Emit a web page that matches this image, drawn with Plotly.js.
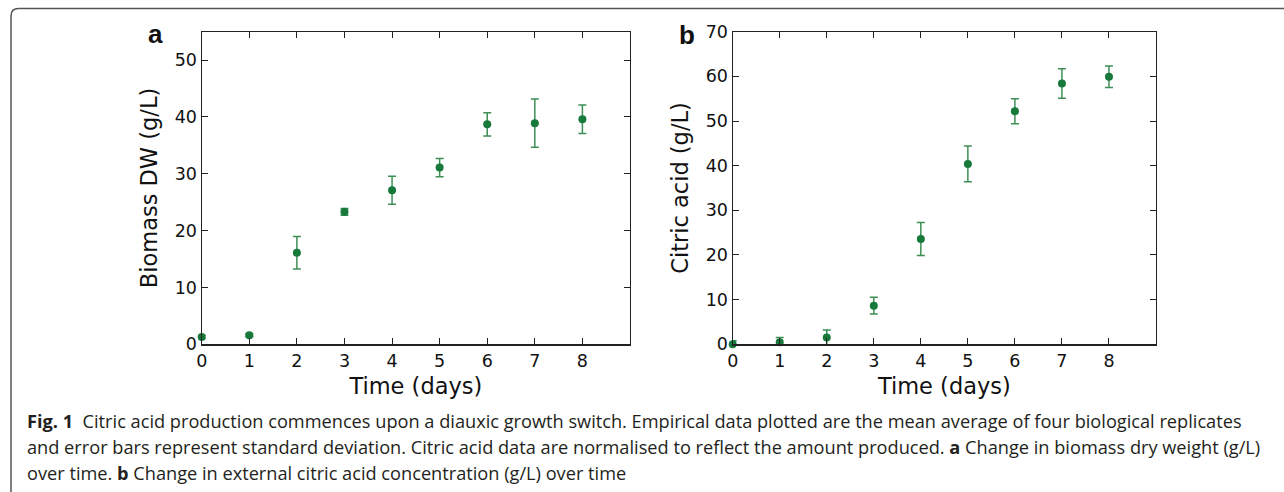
<!DOCTYPE html>
<html>
<head>
<meta charset="utf-8">
<script src="https://cdn.plot.ly/plotly-3.0.1.min.js"></script>
<style>
  html, body { margin: 0; padding: 0; background: #ffffff; }
  #chart { width: 1284px; height: 492px; }
</style>
</head>
<body>
<div id="chart"></div>
<script>
// ---- data ----
const days = [0, 1, 2, 3, 4, 5, 6, 7, 8];
const biomass = [1.3, 1.6, 16.1, 23.3, 27.1, 31.1, 38.7, 38.9, 39.6];
const biomassSD = [0.3, 0.25, 2.85, 0.6, 2.45, 1.6, 2.05, 4.25, 2.5];
const citric = [0.0, 0.45, 1.5, 8.66, 23.6, 40.4, 52.2, 58.4, 59.9];
const citricSD = [0.8, 1.1, 1.7, 1.85, 3.7, 4.0, 2.8, 3.3, 2.4];
const xTicks = [0, 1, 2, 3, 4, 5, 6, 7, 8];
const yTicksA = [0, 10, 20, 30, 40, 50];
const yTicksB = [0, 10, 20, 30, 40, 50, 60, 70];
const captionLines = [
  "<b>Fig. 1</b>  Citric acid production commences upon a diauxic growth switch. Empirical data plotted are the mean average of four biological replicates",
  "and error bars represent standard deviation. Citric acid data are normalised to reflect the amount produced. <b>a</b> Change in biomass dry weight (g/L)",
  "over time. <b>b</b> Change in external citric acid concentration (g/L) over time"
];

// ---- layout helpers ----
const W = 1284, H = 492;
const px = x => x / W;
const py = y => (H - y) / H;

const markerColor = '#17793a';
const errColor = '#3e8f56';
const axisColor = '#222222';
const tickFont = {family: 'DejaVu Sans', size: 17.5, color: '#111111'};
const titleFont = {family: 'DejaVu Sans', size: 22.5, color: '#111111'};

function trace(y, sd, xa, ya) {
  return {
    x: days, y: y, xaxis: xa, yaxis: ya, type: 'scatter', mode: 'markers',
    cliponaxis: false,
    marker: {color: markerColor, size: 8},
    error_y: {type: 'data', array: sd, visible: true, color: errColor, thickness: 1.5, width: 4},
    showlegend: false, hoverinfo: 'x+y'
  };
}

function xAxis(domain, anchor) {
  return {
    domain: domain, anchor: anchor, range: [0, 9],
    tickvals: xTicks, ticktext: xTicks.map(String),
    ticks: 'inside', ticklen: 6, tickwidth: 1, tickcolor: axisColor,
    showline: true, linecolor: axisColor, linewidth: 1.2, mirror: 'allticks',
    showgrid: false, zeroline: false, tickfont: tickFont,
    title: {text: 'Time (days)', font: titleFont, standoff: 8}
  };
}
function yAxis(domain, anchor, range, ticks, title) {
  return {
    domain: domain, anchor: anchor, range: range,
    tickvals: ticks, ticktext: ticks.map(String),
    ticks: 'inside', ticklen: 6, tickwidth: 1, tickcolor: axisColor,
    showline: true, linecolor: axisColor, linewidth: 1.2, mirror: 'allticks',
    showgrid: false, zeroline: false, tickfont: tickFont,
    title: {text: title, font: titleFont, standoff: 10}
  };
}

const yDom = [py(344.3), py(31.7)];

const annotations = [
  {text: '<b>a</b>', x: px(155), y: py(34), xref: 'paper', yref: 'paper', showarrow: false,
   xanchor: 'center', yanchor: 'middle', font: {family: 'Liberation Sans', size: 26, color: '#111'}},
  {text: '<b>b</b>', x: px(687), y: py(35), xref: 'paper', yref: 'paper', showarrow: false,
   xanchor: 'center', yanchor: 'middle', font: {family: 'Liberation Sans', size: 26, color: '#111'}}
];
const capY = [421, 447, 473];
captionLines.forEach((t, i) => {
  annotations.push({text: t, x: px(25), y: py(capY[i]), xref: 'paper', yref: 'paper', showarrow: false,
    xanchor: 'left', yanchor: 'middle', align: 'left',
    font: {family: 'Open Sans', size: 18.2, color: '#231f20'}});
});

const borderPath = `M ${px(11)} ${py(492)} L ${px(11)} ${py(16)} Q ${px(11)} ${py(8.5)} ${px(18.5)} ${py(8.5)} L ${px(1284)} ${py(8.5)}`;

const layout = {
  width: W, height: H,
  margin: {l: 0, r: 0, t: 0, b: 0},
  paper_bgcolor: '#ffffff', plot_bgcolor: '#ffffff',
  xaxis: xAxis([px(201.7), px(630)], 'y'),
  yaxis: yAxis(yDom, 'x', [0, 55], yTicksA, 'Biomass DW (g/L)'),
  xaxis2: xAxis([px(732.7), px(1156)], 'y2'),
  yaxis2: yAxis(yDom, 'x2', [0, 70], yTicksB, 'Citric acid (g/L)'),
  annotations: annotations,
  shapes: [{type: 'path', path: borderPath, xref: 'paper', yref: 'paper',
            line: {color: '#555555', width: 1.5}}]
};

Plotly.newPlot('chart', [trace(biomass, biomassSD, 'x', 'y'), trace(citric, citricSD, 'x2', 'y2')], layout,
  {displayModeBar: false, staticPlot: true});
</script>
</body>
</html>
